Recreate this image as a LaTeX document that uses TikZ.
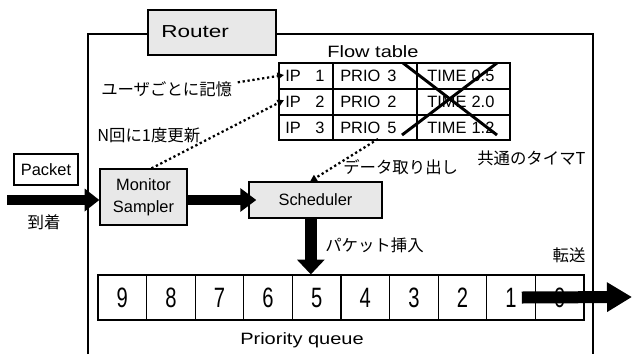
\documentclass[tikz,border=0pt]{standalone}
\usepackage{fontspec}
\usepackage{graphicx}
\setmainfont{Liberation Sans}
\newfontfamily\jp{Noto Sans CJK JP}
\usetikzlibrary{arrows.meta}
\tikzset{
	graybox/.style={draw, line width=1pt, fill=black!9, inner sep=0pt},
	whitebox/.style={draw, line width=0.8pt, fill=white, inner sep=0pt},
	cell/.style={draw, line width=0.9pt, inner sep=0pt, minimum width=36.45pt, minimum height=33.75pt},
	lbl/.style={anchor=west, inner sep=0pt},
	fat/.style={line width=7.5pt, -{Triangle[length=11pt,width=16.5pt]}},
	dots/.style={dotted, line width=1.7pt, -{Triangle[length=5pt,width=5pt]}}
}
\newcommand\qdigit[1]{\scalebox{.72}[1]{\fontsize{21}{21}\selectfont #1}}
\newcommand\widetext[2]{\scalebox{#1}[1]{#2}}

\begin{document}
\begin{tikzpicture}[x=0.75pt, y=-0.75pt, every node/.style={font=\fontsize{12.3}{14.5}\selectfont}]
		\useasboundingbox (0,0) rectangle (632,354);
		\draw[line width=0.8pt] (88,354) -- (88,34) -- (593,34) -- (593,354);
		\draw[graybox] (148,10) rectangle (276,55);
		\node[lbl, font=\fontsize{13}{15}\selectfont] (router) at (161,32) {\widetext{1.3}{Router}};
		
		\node (flowtitle) at (373,52) {\widetext{1.22}{Flow table}};
		\node[lbl] (ip1) at (285,76) {IP};
		\node (num1) at (320,76) {1};
		\node[lbl] (prio1) at (340,76) {PRIO};
		\node (pval1) at (392,76) {3};
		\node[lbl] (time1) at (427,76) {TIME};
		\node (tval1) at (483,76) {0.5};
		\node[lbl] (ip2) at (285,102) {IP};
		\node (num2) at (320,102) {2};
		\node[lbl] (prio2) at (340,102) {PRIO};
		\node (pval2) at (392,102) {2};
		\node[lbl] (time2) at (427,102) {TIME};
		\node (tval2) at (483,102) {2.0};
		\node[lbl] (ip3) at (285,127.5) {IP};
		\node (num3) at (320,127.5) {3};
		\node[lbl] (prio3) at (340,127.5) {PRIO};
		\node (pval3) at (392,127.5) {5};
		\node[lbl] (time3) at (427,127.5) {TIME};
		\node (tval3) at (483,127.5) {1.2};
		\draw[line width=0.9pt] (279,89) -- (510,89);
		\draw[line width=0.9pt] (279,115) -- (510,115);
		\draw[line width=0.9pt] (333,63) -- (333,140);
		\draw[line width=0.9pt] (417,63) -- (417,140);
		\draw[line width=2pt] (279,63) rectangle (510,140);
		\draw[line width=2.2pt] (403,63) -- (497,135);
		\draw[line width=2.2pt] (497,63) -- (402,135);
		
		\node[whitebox, minimum width=48pt, minimum height=23.25pt] (packet) at (46,169.5) {Packet};
		\node (arrive) at (44,222) {\jp 到着};
		\node[graybox, minimum width=65.25pt, minimum height=42pt, align=center, font=\fontsize{12.3}{16.5}\selectfont] (monitor) at (143.5,197) {Monitor\\Sampler};
		\node[graybox, minimum width=99.75pt, minimum height=27pt] (scheduler) at (315.5,200) {Scheduler};
		
		\node[lbl] (peruser) at (101,89) {\jp ユーザごとに記憶};
		\node[lbl] (everyn) at (97,135) {\jp N回に1度更新};
		\node[lbl] (fetch) at (343,167) {\jp データ取り出し};
		\node[lbl] (timer) at (477,158) {\jp 共通のタイマT};
		\node[lbl] (insert) at (325,245) {\jp パケット挿入};
		\node (forward) at (569,255) {\jp 転送};
		
		\coordinate (row1) at (284,75);
		\coordinate (row2) at (284,100);
		\coordinate (tblout) at (378,139);
		\draw[dots] ([xshift=4pt, yshift=5pt]peruser.east) -- (row1);
		\draw[dots] ([xshift=6pt]monitor.north) -- (row2);
		\draw[dots] (tblout) -- ([xshift=-4pt]scheduler.north);
		
		\node[cell] (q9) at (122.3,297.5) {\qdigit{9}};
		\node[cell] (q8) at (170.9,297.5) {\qdigit{8}};
		\node[cell] (q7) at (219.5,297.5) {\qdigit{7}};
		\node[cell] (q6) at (268.1,297.5) {\qdigit{6}};
		\node[cell] (q5) at (316.7,297.5) {\qdigit{5}};
		\node[cell] (q4) at (365.3,297.5) {\qdigit{4}};
		\node[cell] (q3) at (413.9,297.5) {\qdigit{3}};
		\node[cell] (q2) at (462.5,297.5) {\qdigit{2}};
		\node[cell] (q1) at (511.1,297.5) {\qdigit{1}};
		\node[cell] (q0) at (559.7,297.5) {\qdigit{0}};
		\node (pqueue) at (302,340) {\widetext{1.22}{Priority queue}};
		
		\coordinate (inlet) at (7,200);
		\coordinate (outlet) at (632,297);
		\draw[fat] (inlet) -- (monitor.west |- inlet);
		\draw[fat, line width=8pt, -{Triangle[length=12pt,width=17pt]}] (monitor.east |- scheduler.west) -- ([xshift=6pt]scheduler.west);
		\draw[line width=9pt, -{Triangle[length=11pt,width=20pt]}] ([xshift=-3.5pt]scheduler.south) -- ([xshift=-3.5pt]scheduler.south |- q5.north);
		\draw[line width=9pt, -{Triangle[length=18.75pt,width=21pt]}] ([xshift=8pt]q1.center) -- (outlet);
	    \end{tikzpicture}
\end{document}
